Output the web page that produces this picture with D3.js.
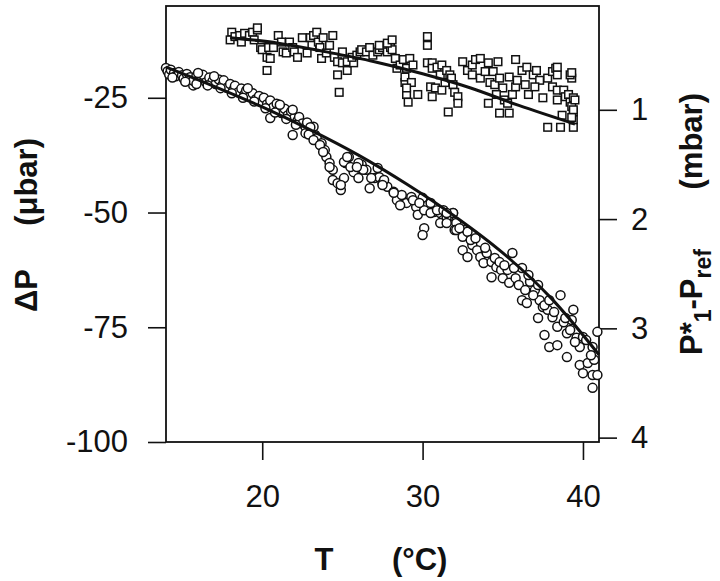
<!DOCTYPE html>
<html>
<head>
<meta charset="utf-8">
<script src="https://cdn.jsdelivr.net/npm/d3@7"></script>
<style>
  body { margin: 0; background: #fff; }
  svg { display: block; font-family: "Liberation Sans", Arial, sans-serif; }
  .tick text { font-size: 31px; fill: #111; }
  .tick line { stroke: #111; stroke-width: 1.6px; }
  .title { font-size: 31px; font-weight: bold; fill: #111; }
</style>
</head>
<body>
<svg id="chart" width="720" height="581"></svg>
<script>
// circles: T (°C), ΔP (µbar) -> left axis
var circles = [
  [14.0,-18.5],[14.1,-19.2],[14.2,-19.9],[14.3,-18.9],[14.5,-19.6],[14.6,-20.3],[14.8,-19.4],[15.0,-20.1],
  [15.1,-20.8],[15.3,-19.8],[15.5,-20.5],[15.7,-22.3],[15.7,-21.3],[15.9,-20.2],[16.1,-21.0],[16.3,-20.0],
  [16.5,-21.6],[16.7,-20.6],[16.9,-21.4],[17.1,-22.0],[17.3,-21.0],[17.5,-22.3],[17.6,-21.2],[17.8,-22.8],
  [18.0,-22.0],[18.2,-23.3],[18.3,-22.4],[18.5,-23.8],[18.7,-23.0],[18.9,-24.2],[19.0,-23.4],[19.2,-24.8],
  [19.4,-24.0],[19.6,-25.3],[19.8,-24.6],[20.0,-25.8],[20.1,-25.0],[20.3,-26.4],[20.5,-25.6],[20.7,-27.0],
  [20.9,-26.3],[21.0,-27.7],[21.2,-28.3],[21.4,-27.4],[21.6,-28.8],[21.8,-28.0],[22.0,-29.4],[22.2,-30.0],
  [22.3,-29.2],[22.5,-30.6],[22.7,-31.3],[22.8,-30.4],[23.0,-32.0],[23.2,-31.3],[23.3,-33.1],[22.7,-32.7],
  [23.0,-31.4],[23.4,-33.8],[23.7,-34.9],[23.9,-36.4],[24.0,-37.9],[24.2,-39.2],[24.4,-40.7],[24.4,-42.9],
  [24.7,-43.6],[24.9,-45.1],[25.1,-42.5],[25.2,-39.2],[25.4,-37.9],[25.7,-41.2],[26.0,-42.5],[26.2,-39.6],
  [26.5,-40.7],[26.7,-44.7],[27.0,-42.5],[27.3,-42.3],[27.5,-43.6],[27.8,-44.4],[28.2,-45.5],[28.4,-47.3],
  [28.7,-46.2],[29.0,-47.9],[29.3,-46.6],[29.6,-48.8],[29.7,-50.5],[30.0,-46.8],[30.1,-49.5],[30.5,-47.9],
  [30.7,-49.9],[31.1,-50.1],[31.3,-51.6],[31.6,-51.0],[31.9,-50.1],[32.1,-52.3],[30.1,-53.4],[30.0,-54.9],
  [32.0,-53.8],[25.1,-39.0],[25.5,-40.1],[26.0,-39.2],[26.3,-40.7],[26.8,-42.5],[27.2,-40.3],[27.6,-42.9],
  [25.3,-37.9],[25.9,-40.1],[24.2,-40.1],[24.9,-44.0],[27.5,-44.0],[28.2,-45.7],[28.6,-48.4],[29.4,-47.3],
  [29.8,-47.9],[30.5,-50.1],[30.9,-49.5],[31.1,-52.3],[31.5,-51.0],[32.2,-53.8],[32.6,-53.8],
  [31.3,-49.5],[31.9,-50.1],[31.5,-52.3],[32.1,-53.8],[32.5,-55.3],[32.8,-54.2],[32.5,-58.2],[32.8,-59.7],
  [33.1,-57.1],[33.4,-58.2],[33.6,-59.7],[33.8,-61.0],[34.0,-58.8],[34.3,-60.8],[34.3,-64.1],[34.6,-61.9],
  [34.9,-62.5],[35.0,-64.3],[35.3,-62.5],[35.6,-58.8],[35.4,-65.3],[35.8,-64.3],[36.0,-65.8],[36.2,-62.1],
  [36.2,-69.1],[36.4,-66.9],[36.5,-69.7],[36.7,-65.1],[37.0,-66.9],[37.2,-65.8],[37.3,-69.1],[37.2,-73.0],
  [37.5,-70.6],[37.8,-71.2],[38.1,-72.8],[38.6,-68.0],[38.4,-74.9],[37.6,-76.7],[37.9,-79.3],[38.4,-78.9],
  [38.8,-73.9],[39.0,-76.3],[39.0,-81.5],[39.3,-73.4],[39.4,-71.2],[39.6,-77.3],[39.8,-79.3],[40.0,-77.1],
  [40.2,-77.8],[40.6,-79.3],[39.8,-83.2],[40.0,-85.0],[40.3,-82.8],[40.6,-85.4],[40.7,-82.1],[40.9,-76.0],
  [40.6,-88.2],[40.9,-85.4],[31.5,-50.1],[32.3,-53.4],[33.0,-56.0],[33.3,-55.6],[33.9,-57.7],[34.5,-59.9],
  [34.8,-60.8],[35.1,-61.5],[35.7,-62.1],[36.6,-63.6],[36.9,-68.0],[37.6,-70.2],[37.9,-69.1],[38.2,-71.7],
  [38.9,-73.0],[39.2,-75.6],[39.5,-78.2],[40.5,-81.1],
  [14.4,-20.6],[15.2,-21.5],[15.9,-22.0],[16.6,-22.3],[17.4,-22.9],[18.1,-24.0],[18.8,-25.0],[19.5,-25.8],
  [20.2,-27.3],[20.5,-29.4],[20.8,-28.2],[21.5,-29.6],[21.9,-33.1],[22.1,-30.9],[22.9,-33.0],[23.2,-34.2],
  [23.6,-35.3],[23.8,-36.8],[16.0,-19.6],[17.0,-20.3],[19.1,-22.9],[21.1,-26.5],[21.9,-27.6]
];

// squares: T (°C), P*1 - Pref (mbar) -> right axis
var squares = [
  [18.1,0.29],[18.0,0.36],[18.3,0.33],[18.6,0.32],[18.9,0.30],[18.7,0.38],[19.2,0.32],[19.4,0.29],
  [19.7,0.27],[19.7,0.25],[19.5,0.36],[19.9,0.43],[20.0,0.45],[20.3,0.52],[20.5,0.53],[20.4,0.43],
  [20.7,0.43],[21.0,0.32],[21.2,0.38],[21.3,0.47],[21.5,0.48],[21.7,0.38],[21.9,0.43],[22.0,0.47],
  [22.2,0.52],[22.5,0.34],[22.8,0.48],[23.0,0.34],[23.1,0.41],[23.2,0.32],[23.4,0.29],[23.5,0.38],
  [23.6,0.43],[23.7,0.53],[23.8,0.34],[24.0,0.48],[24.2,0.41],[24.4,0.32],[24.5,0.52],[24.7,0.56],
  [24.7,0.68],[25.0,0.47],[25.0,0.57],[25.3,0.64],[25.3,0.56],[25.7,0.57],[25.6,0.52],[25.9,0.50],
  [26.1,0.47],[26.2,0.45],[26.5,0.47],[26.7,0.43],[26.9,0.50],[27.2,0.47],[27.3,0.45],[27.5,0.43],
  [27.8,0.47],[28.0,0.43],[28.1,0.45],[28.3,0.53],[28.4,0.62],[28.6,0.59],[28.8,0.54],[28.9,0.75],
  [20.3,0.64],[24.8,0.84],[29.2,0.53],[29.0,0.62],[29.4,0.59],[28.9,0.70],[29.3,0.75],[29.0,0.86],
  [29.1,0.93],[29.7,0.86],[30.3,0.57],[30.6,0.57],[30.6,0.62],[30.9,0.61],[31.2,0.59],[31.1,0.68],
  [31.5,0.64],[31.7,0.68],[30.5,0.79],[30.8,0.80],[30.6,0.88],[31.2,0.82],[31.4,0.75],[31.8,0.71],
  [31.6,1.02],[31.9,0.77],[32.0,0.84],[32.2,0.88],[32.2,0.94],[30.3,0.33],[30.3,0.41],[32.5,0.56],
  [32.8,0.64],[33.1,0.59],[33.3,0.54],[33.6,0.53],[33.1,0.68],[33.6,0.71],[33.9,0.65],[34.1,0.57],
  [34.4,0.65],[34.2,0.75],[34.5,0.77],[34.8,0.71],[34.7,0.56],[35.0,0.80],[34.1,0.94],[34.6,0.86],
  [34.8,1.03],[35.1,0.91],[35.4,1.03],[35.3,0.94],[35.6,0.86],[35.8,0.79],[35.4,0.70],[35.8,0.54],
  [35.9,0.73],[36.2,0.64],[36.4,0.77],[36.5,0.61],[36.6,0.86],[36.9,0.68],[37.1,0.64],[37.3,0.73],
  [37.0,0.79],[37.5,0.89],[37.8,0.71],[38.1,0.65],[38.3,0.62],[38.4,0.68],[38.1,0.79],[38.4,0.82],
  [38.8,0.82],[38.4,0.91],[38.9,0.88],[39.1,0.86],[39.3,0.71],[39.2,0.93],[39.4,0.89],[39.3,0.97],
  [39.4,1.02],[38.7,1.05],[37.8,1.16],[38.6,1.16],[39.4,1.16],[39.4,1.09],[39.2,0.68],[38.4,0.61],
  [39.3,0.66],[39.5,0.91],[39.4,1.00],[39.3,1.07],[27.3,0.41],[27.8,0.39],[28.1,0.36],[29.0,0.80]
];

// fitted curves
var circleFit = [[14,-18.3],[17,-22.5],[20,-27.0],[23,-32.0],[26,-37.5],[29,-43.8],[32,-50.8],[35,-58.8],[38,-68.6],[41,-81.0]];
var squareFit = [[18.0,0.34],[21,0.39],[24,0.47],[27,0.56],[30,0.67],[33,0.80],[36,0.96],[39.5,1.13]];

var xTicks = [20, 30, 40];
var leftTicks = [-100, -75, -50, -25];
var rightTicks = [1, 2, 3, 4];

var svg = d3.select("#chart");

var x = d3.scaleLinear().domain([14, 41]).range([166, 599]);
var yL = d3.scaleLinear().domain([-100, -5]).range([442, 6]);
var yR = d3.scaleLinear().domain([0.05, 4.04]).range([6, 442]);

// axes
svg.append("g")
    .attr("transform", "translate(166,0)")
    .call(d3.axisLeft(yL).tickValues(leftTicks).tickSize(18).tickPadding(20).tickSizeOuter(0)
      .tickFormat(function (d) { return String(d); }))
    .call(function (g) { g.select(".domain").remove(); });

svg.append("g")
    .attr("transform", "translate(599,0)")
    .call(d3.axisRight(yR).tickValues(rightTicks).tickSize(18).tickPadding(14).tickSizeOuter(0)
      .tickFormat(function (d) { return String(d); }))
    .call(function (g) { g.select(".domain").remove(); });

svg.append("g")
    .attr("transform", "translate(0,442)")
    .call(d3.axisBottom(x).tickValues(xTicks).tickSize(18).tickPadding(25).tickSizeOuter(0))
    .call(function (g) { g.select(".domain").remove(); });

svg.selectAll(".tick text").attr("font-family", null).attr("font-size", null);

// frame
svg.append("rect")
    .attr("x", x(14)).attr("y", yL(-5))
    .attr("width", x(41) - x(14)).attr("height", yL(-100) - yL(-5))
    .attr("fill", "none").attr("stroke", "#111").attr("stroke-width", 1.8);

// markers
svg.append("g").selectAll("rect")
    .data(squares)
    .enter().append("rect")
    .attr("x", function (d) { return x(d[0]) - 3.8; })
    .attr("y", function (d) { return yR(d[1]) - 3.8; })
    .attr("width", 7.6).attr("height", 7.6)
    .attr("fill", "#fff").attr("stroke", "#111").attr("stroke-width", 1.5);

svg.append("g").selectAll("circle")
    .data(circles)
    .enter().append("circle")
    .attr("cx", function (d) { return x(d[0]); })
    .attr("cy", function (d) { return yL(d[1]); })
    .attr("r", 4.5)
    .attr("fill", "#fff").attr("stroke", "#111").attr("stroke-width", 1.5);

// fit lines
var lineL = d3.line().curve(d3.curveMonotoneX)
    .x(function (d) { return x(d[0]); }).y(function (d) { return yL(d[1]); });
var lineR = d3.line().curve(d3.curveMonotoneX)
    .x(function (d) { return x(d[0]); }).y(function (d) { return yR(d[1]); });

svg.append("path").attr("d", lineL(circleFit))
    .attr("fill", "none").attr("stroke", "#111").attr("stroke-width", 3);
svg.append("path").attr("d", lineR(squareFit))
    .attr("fill", "none").attr("stroke", "#111").attr("stroke-width", 3);

// axis titles
svg.append("text").attr("class", "title")
    .attr("transform", "translate(37,312) rotate(-90)")
    .text("ΔP");
svg.append("text").attr("class", "title")
    .attr("transform", "translate(37,138) rotate(-90)")
    .attr("text-anchor", "end")
    .text("(μbar)");

svg.append("text").attr("class", "title")
    .attr("x", 324).attr("y", 570).attr("text-anchor", "middle")
    .text("T");
svg.append("text").attr("class", "title")
    .attr("x", 392).attr("y", 570)
    .text("(°C)");

var rt = svg.append("text").attr("class", "title")
    .attr("font-size", "33px")
    .attr("transform", "translate(702,355) rotate(-90)");
rt.append("tspan").text("P*");
rt.append("tspan").attr("dy", 9).attr("font-size", "23px").text("1");
rt.append("tspan").attr("dy", -9).text("-P");
rt.append("tspan").attr("dy", 9).attr("font-size", "23px").text("ref");

svg.append("text").attr("class", "title")
    .attr("transform", "translate(702,93) rotate(-90)")
    .attr("text-anchor", "end")
    .text("(mbar)");
</script>
</body>
</html>
